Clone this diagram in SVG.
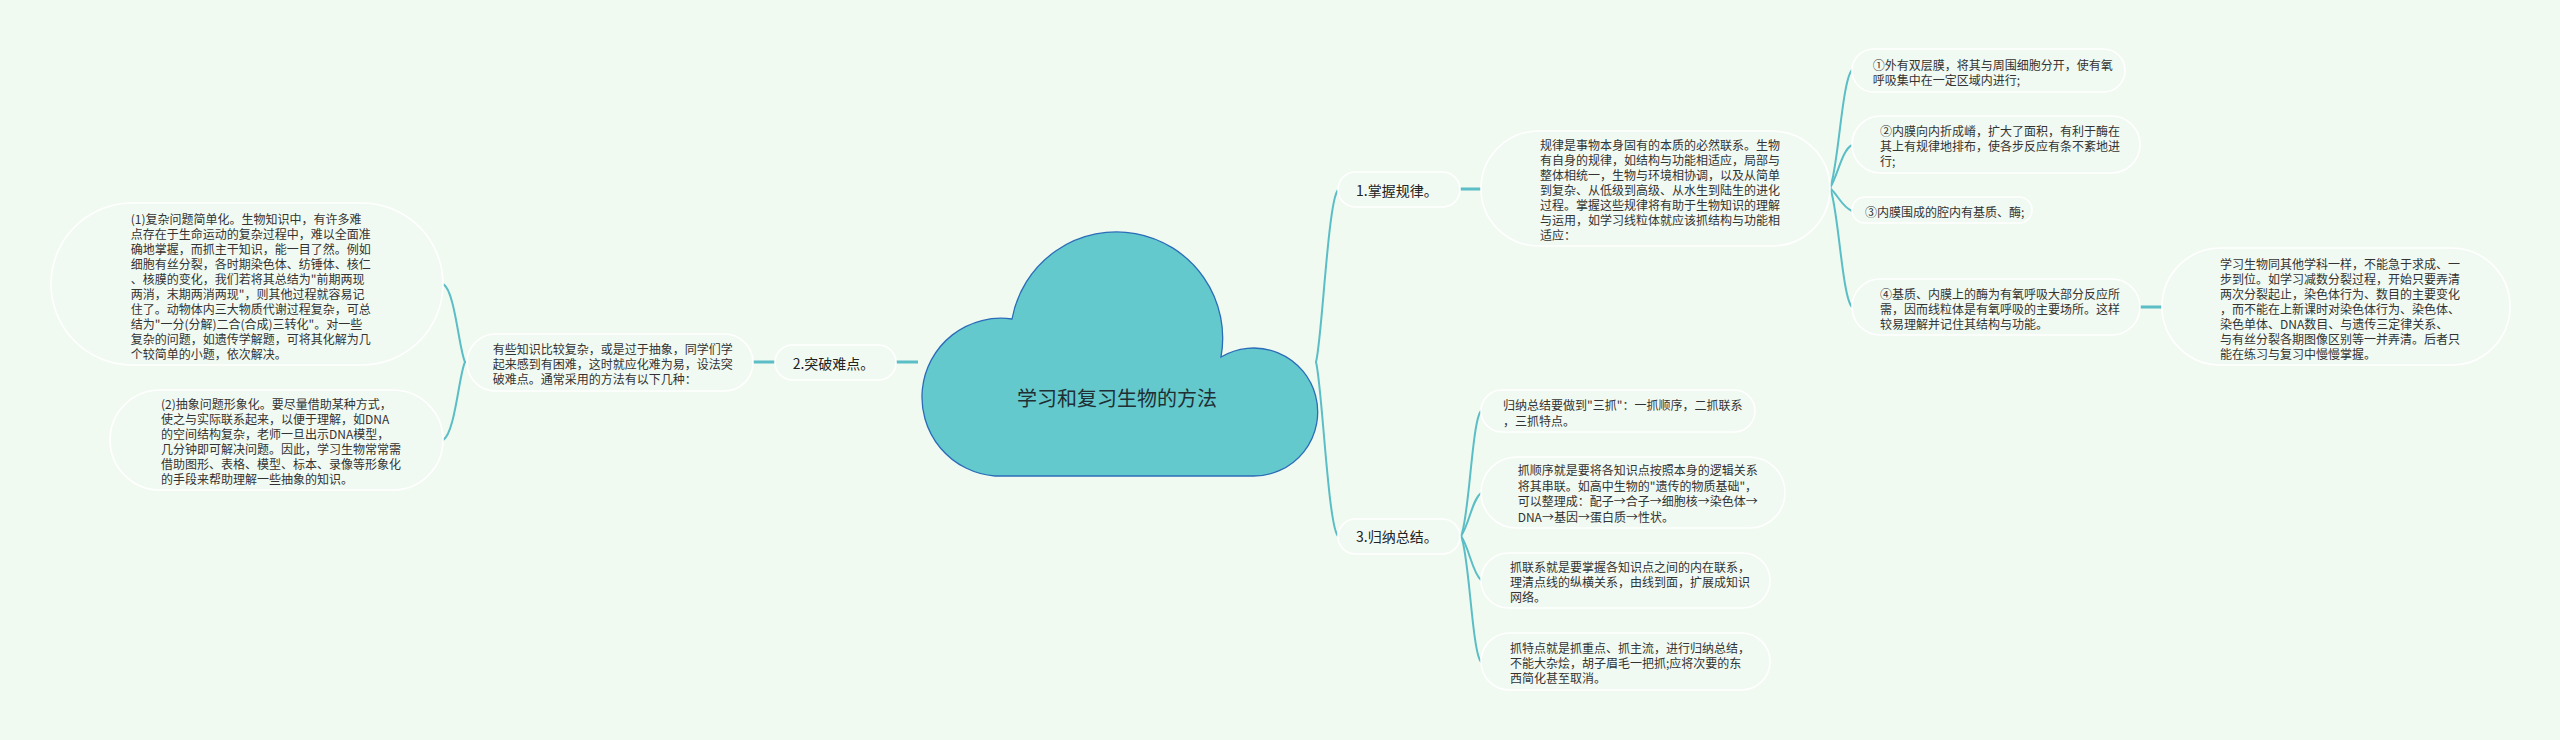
<svg xmlns="http://www.w3.org/2000/svg" width="2560" height="740" viewBox="0 0 2560 740">
<style>
.bg{fill:#F0FAF0}
.box{fill:#F1FAF2;stroke:#FFFFFF;stroke-width:1.6}
.t{font-family:"Noto Sans CJK SC","Noto Sans",sans-serif;font-size:12px;fill:#333333;dominant-baseline:central}
.l1{font-family:"Noto Sans CJK SC","Noto Sans",sans-serif;font-size:14px;fill:#222222;dominant-baseline:central}
.root{font-family:"Noto Sans CJK SC","Noto Sans",sans-serif;font-size:20px;fill:#1f2f33;dominant-baseline:central;text-anchor:middle}
.c{fill:none;stroke:#5BBEC6;stroke-width:2;stroke-linecap:round}
.h{fill:none;stroke:#5BBEC6;stroke-width:3}
</style>
<rect class="bg" x="0" y="0" width="2560" height="740"/>
<g id="connectors">
<line class="h" x1="896" y1="362" x2="918" y2="362"/>
<line class="h" x1="753" y1="362" x2="775" y2="362"/>
<path class="c" d="M465 362 C459 350, 455 290, 443 284"/>
<path class="c" d="M465 362 C459 374, 455 434, 443 440"/>
<path class="c" d="M1316 362 C1322 340, 1328 200, 1338 190"/>
<path class="c" d="M1316 362 C1322 384, 1328 526, 1338 536"/>
<line class="h" x1="1460" y1="189" x2="1481" y2="189"/>
<path class="c" d="M1830 188 C1838 170, 1842 80, 1852 70"/>
<path class="c" d="M1830 188 C1838 175, 1842 150, 1852 145"/>
<path class="c" d="M1830 188 C1838 195, 1842 207, 1852 211"/>
<path class="c" d="M1830 188 C1838 205, 1842 297, 1852 307"/>
<line class="h" x1="2140" y1="307" x2="2162" y2="307"/>
<path class="c" d="M1461 536 C1469 520, 1472 420, 1481 411"/>
<path class="c" d="M1461 536 C1469 525, 1472 500, 1481 493"/>
<path class="c" d="M1461 536 C1469 547, 1472 572, 1481 580"/>
<path class="c" d="M1461 536 C1469 552, 1472 652, 1481 662"/>
</g>
<g id="root">
<path d="M995 476 A79 79 0 1 1 1012 319 A106 106 0 0 1 1221 357 A64 64 0 1 1 1252 476 Z" fill="#63C9CD" stroke="#2B6CB8" stroke-width="1.3"/>
<text class="root" x="1117" y="397">学习和复习生物的方法</text>
</g>
<g id="n2">
<rect class="box" x="775" y="345" width="121" height="35" rx="17.5"/>
<text class="l1" x="792.7" y="362.5">2.突破难点。</text>
</g>
<g id="n2p">
<rect class="box" x="467" y="334" width="286" height="57" rx="28.5"/>
<text class="t" x="492.7" y="348">有些知识比较复杂，或是过于抽象，同学们学</text>
<text class="t" x="492.7" y="363">起来感到有困难，这时就应化难为易，设法突</text>
<text class="t" x="492.7" y="378.5">破难点。通常采用的方法有以下几种：</text>
</g>
<g id="n2a">
<rect class="box" x="51" y="203" width="392" height="162" rx="81"/>
<text class="t" x="130.7" y="218.3">(1)复杂问题简单化。生物知识中，有许多难</text>
<text class="t" x="130.7" y="233.3">点存在于生命运动的复杂过程中，难以全面准</text>
<text class="t" x="130.7" y="248.3">确地掌握，而抓主干知识，能一目了然。例如</text>
<text class="t" x="130.7" y="263.3">细胞有丝分裂，各时期染色体、纺锤体、核仁</text>
<text class="t" x="130.7" y="278.3">、核膜的变化，我们若将其总结为"前期两现</text>
<text class="t" x="130.7" y="293.3">两消，末期两消两现"，则其他过程就容易记</text>
<text class="t" x="130.7" y="308.3">住了。动物体内三大物质代谢过程复杂，可总</text>
<text class="t" x="130.7" y="323.3">结为"一分(分解)二合(合成)三转化"。对一些</text>
<text class="t" x="130.7" y="338.3">复杂的问题，如遗传学解题，可将其化解为几</text>
<text class="t" x="130.7" y="353.3">个较简单的小题，依次解决。</text>
</g>
<g id="n2b">
<rect class="box" x="110" y="390" width="333" height="100" rx="50"/>
<text class="t" x="161" y="403.3">(2)抽象问题形象化。要尽量借助某种方式，</text>
<text class="t" x="161" y="418.3">使之与实际联系起来，以便于理解，如DNA</text>
<text class="t" x="161" y="433.3">的空间结构复杂，老师一旦出示DNA模型，</text>
<text class="t" x="161" y="448.3">几分钟即可解决问题。因此，学习生物常常需</text>
<text class="t" x="161" y="463.3">借助图形、表格、模型、标本、录像等形象化</text>
<text class="t" x="161" y="478.3">的手段来帮助理解一些抽象的知识。</text>
</g>
<g id="n1">
<rect class="box" x="1338" y="172" width="122" height="35" rx="17.5"/>
<text class="l1" x="1356" y="190">1.掌握规律。</text>
</g>
<g id="n1p">
<rect class="box" x="1481" y="131" width="349" height="115" rx="57.5"/>
<text class="t" x="1540" y="144">规律是事物本身固有的本质的必然联系。生物</text>
<text class="t" x="1540" y="159.2">有自身的规律，如结构与功能相适应，局部与</text>
<text class="t" x="1540" y="174.3">整体相统一，生物与环境相协调，以及从简单</text>
<text class="t" x="1540" y="189.3">到复杂、从低级到高级、从水生到陆生的进化</text>
<text class="t" x="1540" y="204.3">过程。掌握这些规律将有助于生物知识的理解</text>
<text class="t" x="1540" y="219.2">与运用，如学习线粒体就应该抓结构与功能相</text>
<text class="t" x="1540" y="234">适应：</text>
</g>
<g id="n1a">
<rect class="box" x="1852" y="49" width="273" height="43" rx="21.5"/>
<text class="t" x="1872.7" y="64">①外有双层膜，将其与周围细胞分开，使有氧</text>
<text class="t" x="1872.7" y="79">呼吸集中在一定区域内进行;</text>
</g>
<g id="n1b">
<rect class="box" x="1852" y="116" width="288" height="57" rx="28.5"/>
<text class="t" x="1880" y="130">②内膜向内折成嵴，扩大了面积，有利于酶在</text>
<text class="t" x="1880" y="145">其上有规律地排布，使各步反应有条不紊地进</text>
<text class="t" x="1880" y="160">行;</text>
</g>
<g id="n1c">
<rect class="box" x="1852" y="197" width="180" height="26" rx="13"/>
<text class="t" x="1865" y="211">③内膜围成的腔内有基质、酶;</text>
</g>
<g id="n1d">
<rect class="box" x="1852" y="279" width="288" height="56" rx="28"/>
<text class="t" x="1880" y="293.3">④基质、内膜上的酶为有氧呼吸大部分反应所</text>
<text class="t" x="1880" y="308.3">需，因而线粒体是有氧呼吸的主要场所。这样</text>
<text class="t" x="1880" y="323.8">较易理解并记住其结构与功能。</text>
</g>
<g id="n1e">
<rect class="box" x="2162" y="248" width="348" height="117" rx="58.5"/>
<text class="t" x="2220" y="263.3">学习生物同其他学科一样，不能急于求成、一</text>
<text class="t" x="2220" y="278.3">步到位。如学习减数分裂过程，开始只要弄清</text>
<text class="t" x="2220" y="293.3">两次分裂起止，染色体行为、数目的主要变化</text>
<text class="t" x="2220" y="308.3">，而不能在上新课时对染色体行为、染色体、</text>
<text class="t" x="2220" y="323.3">染色单体、DNA数目、与遗传三定律关系、</text>
<text class="t" x="2220" y="338.3">与有丝分裂各期图像区别等一并弄清。后者只</text>
<text class="t" x="2220" y="353.3">能在练习与复习中慢慢掌握。</text>
</g>
<g id="n3">
<rect class="box" x="1338" y="519" width="122" height="35" rx="17.5"/>
<text class="l1" x="1356" y="536">3.归纳总结。</text>
</g>
<g id="n3a">
<rect class="box" x="1481" y="390" width="274" height="42" rx="21"/>
<text class="t" x="1503" y="404.3">归纳总结要做到"三抓"：一抓顺序，二抓联系</text>
<text class="t" x="1503" y="420.3">，三抓特点。</text>
</g>
<g id="n3b">
<rect class="box" x="1481" y="457" width="304" height="71" rx="35.5"/>
<text class="t" x="1517.7" y="469.5">抓顺序就是要将各知识点按照本身的逻辑关系</text>
<text class="t" x="1517.7" y="485">将其串联。如高中生物的"遗传的物质基础"，</text>
<text class="t" x="1517.7" y="500.5">可以整理成：配子→合子→细胞核→染色体→</text>
<text class="t" x="1517.7" y="516">DNA→基因→蛋白质→性状。</text>
</g>
<g id="n3c">
<rect class="box" x="1481" y="553" width="289" height="55" rx="27.5"/>
<text class="t" x="1510" y="566.7">抓联系就是要掌握各知识点之间的内在联系，</text>
<text class="t" x="1510" y="581.7">理清点线的纵横关系，由线到面，扩展成知识</text>
<text class="t" x="1510" y="596.7">网络。</text>
</g>
<g id="n3d">
<rect class="box" x="1481" y="633" width="289" height="57" rx="28.5"/>
<text class="t" x="1510" y="647">抓特点就是抓重点、抓主流，进行归纳总结，</text>
<text class="t" x="1510" y="662.3">不能大杂烩，胡子眉毛一把抓;应将次要的东</text>
<text class="t" x="1510" y="677.5">西简化甚至取消。</text>
</g>
</svg>
